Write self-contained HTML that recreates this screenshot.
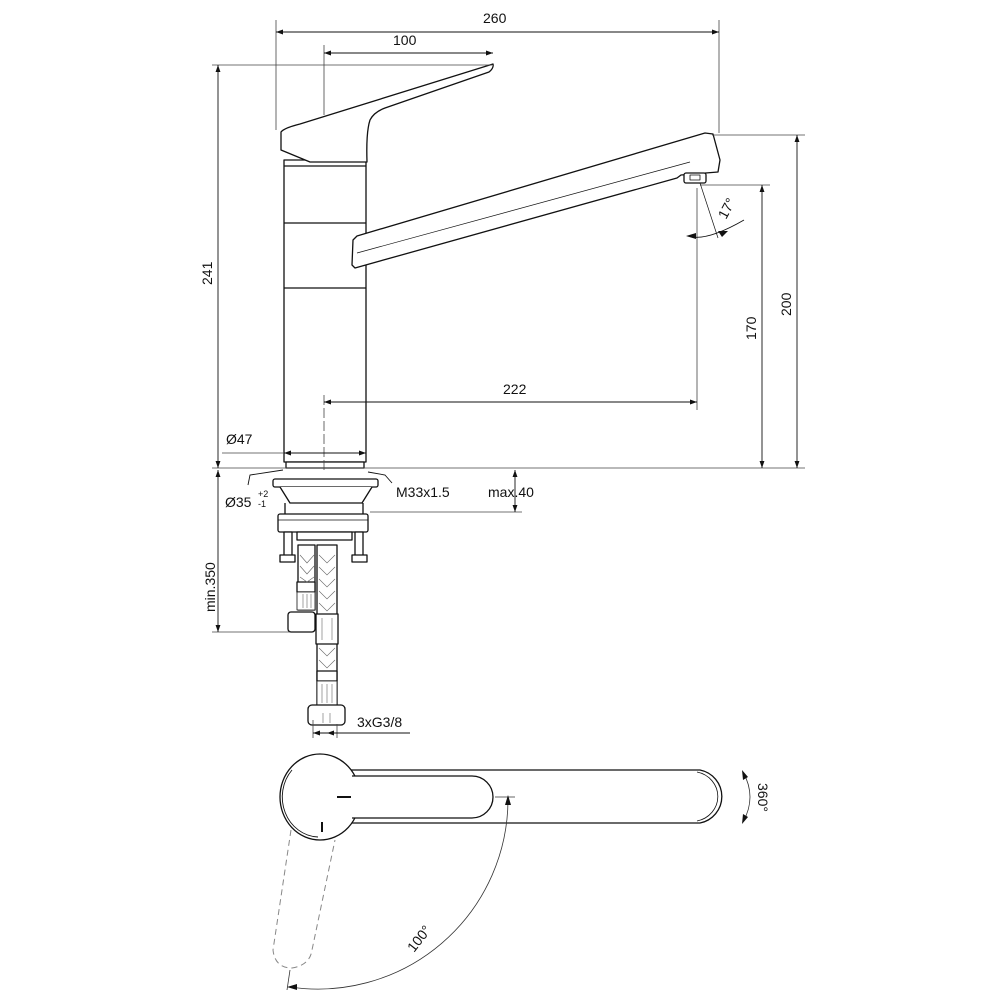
<!DOCTYPE html>
<html><head><meta charset="utf-8"><style>
html,body{margin:0;padding:0;background:#fff}
svg{display:block}
text{font-family:"Liberation Sans",Arial,sans-serif;font-size:14px;fill:#111}
</style></head><body>
<svg width="1000" height="1000" viewBox="0 0 1000 1000" xmlns="http://www.w3.org/2000/svg">
<defs>
<marker id="a" viewBox="0 0 10 10" refX="10" refY="5" markerWidth="10" markerHeight="7" orient="auto-start-reverse" markerUnits="userSpaceOnUse"><path d="M0,1.5 L10,5 L0,8.5z" fill="#111"/></marker>
</defs>
<!-- faucet -->
<g stroke="#111" stroke-width="1.3" fill="#fff" stroke-linejoin="round">
<rect x="284" y="160" width="82" height="302"/>
<line x1="284" y1="166" x2="366" y2="166"/>
<line x1="284" y1="223" x2="366" y2="223"/>
<line x1="284" y1="288" x2="366" y2="288"/>
<path d="M281,132 L281,150 L310,162 L367,162 Q366,132 370,120 Q374,112 385,108 L489,72 Q494,68 493,64 L300,124 Q284,128 281,132z"/>
<path d="M353,240 L357,236 L705,133 L713,134 L720,160 L718,172 L681,175 L677,178 L355,268 L352,265z"/>
<line x1="357" y1="253" x2="690" y2="162" stroke-width="0.7"/>
<rect x="684" y="173" width="22" height="10" rx="2"/>
<rect x="690" y="175" width="10" height="5" stroke-width="0.8"/>
<rect x="286" y="462" width="78" height="6"/>
<!-- under sink -->
<rect x="273" y="479" width="105" height="8" rx="2"/>
<path d="M280,487 L290,503 L362,503 L372,487"/>
<rect x="278" y="514" width="90" height="18" rx="2"/>
<line x1="278" y1="520" x2="368" y2="520" stroke-width="0.8"/>
<line x1="285" y1="503" x2="285" y2="514"/><line x1="363" y1="503" x2="363" y2="514"/>
<rect x="297" y="532" width="55" height="8"/>
<rect x="284" y="532" width="8" height="24"/><rect x="280" y="555" width="15" height="7"/>
<rect x="355" y="532" width="8" height="24"/><rect x="352" y="555" width="15" height="7"/>
<rect x="298" y="545" width="17" height="65"/>
<rect x="317" y="545" width="20" height="160"/>
<rect x="297" y="582" width="18" height="10"/>
<rect x="297" y="592" width="18" height="18" stroke-width="0.8"/>
<rect x="288" y="612" width="27" height="20" rx="3"/>
<rect x="316" y="614" width="22" height="30"/>
<rect x="317" y="671" width="20" height="10"/>
<rect x="317" y="681" width="20" height="24" stroke-width="0.8"/>
<rect x="308" y="705" width="37" height="20" rx="4"/>
</g>
<g stroke="#666" stroke-width="0.6" fill="none">
<path d="M300,555 l7,8 l7,-8 M300,566 l7,8 l7,-8 M300,577 l7,5 l7,-5"/>
<path d="M319,555 l8,8 l8,-8 M319,567 l8,8 l8,-8 M319,579 l8,8 l8,-8 M319,591 l8,8 l8,-8 M319,603 l8,8 l8,-8 M319,648 l8,8 l8,-8 M319,660 l8,8 l8,-8"/>
<path d="M303,594 v14 M307,594 v14 M311,594 v14 M322,684 v19 M327,684 v19 M332,684 v19 M322,618 v22 M332,618 v22"/>
<path d="M323,713 v10 M330,713 v10"/>
</g>
<g stroke="#444" stroke-width="0.8" fill="none">
<line x1="276" y1="20" x2="276" y2="130"/>
<line x1="719" y1="20" x2="719" y2="133"/>
<line x1="324" y1="45" x2="324" y2="115"/>
<line x1="212" y1="65" x2="492" y2="65"/>
<line x1="712" y1="135" x2="805" y2="135"/>
<line x1="700" y1="185" x2="770" y2="185"/>
<line x1="697" y1="188" x2="697" y2="410"/>
<line x1="324" y1="395" x2="324" y2="470" stroke-dasharray="10,3"/>
<line x1="212" y1="468" x2="805" y2="468"/>
<line x1="222" y1="453" x2="284" y2="453"/>
<line x1="370" y1="512" x2="522" y2="512"/>
<line x1="212" y1="632" x2="290" y2="632"/>
<line x1="313" y1="720" x2="313" y2="738"/>
<line x1="337" y1="724" x2="337" y2="738"/>
</g>
<g stroke="#111" stroke-width="0.9" fill="none">
<line x1="276" y1="32" x2="719" y2="32" marker-start="url(#a)" marker-end="url(#a)"/>
<line x1="324" y1="53" x2="493" y2="53" marker-start="url(#a)" marker-end="url(#a)"/>
<line x1="218" y1="65" x2="218" y2="468" marker-start="url(#a)" marker-end="url(#a)"/>
<line x1="797" y1="135" x2="797" y2="468" marker-start="url(#a)" marker-end="url(#a)"/>
<line x1="762" y1="185" x2="762" y2="468" marker-start="url(#a)" marker-end="url(#a)"/>
<line x1="324" y1="402" x2="697" y2="402" marker-start="url(#a)" marker-end="url(#a)"/>
<line x1="284" y1="453" x2="366" y2="453" marker-start="url(#a)" marker-end="url(#a)"/>
<line x1="515" y1="470" x2="515" y2="512" marker-start="url(#a)" marker-end="url(#a)"/>
<line x1="218" y1="470" x2="218" y2="632" marker-start="url(#a)" marker-end="url(#a)"/>
<line x1="313" y1="733" x2="410" y2="733" marker-start="url(#a)"/>
<line x1="337" y1="733" x2="327" y2="733" marker-end="url(#a)"/>
<polyline points="248,485 250,475 283,470"/>
<polyline points="392,483 385,475 368,472"/>
<line x1="700" y1="183" x2="718" y2="238" stroke-width="0.7"/>
<path d="M688,236 Q706,242 744,220" />
</g>
<g fill="#111"><path d="M686,236 l10,-3 l0,6z"/><path d="M728,231 l-10,0 l4,6z"/></g>
<!-- texts -->
<text x="483" y="23">260</text>
<text x="393" y="45">100</text>
<text x="503" y="394">222</text>
<text x="226" y="444">Ø47</text>
<text x="396" y="497">M33x1.5</text>
<text x="488" y="497">max.40</text>
<text x="225" y="507">Ø35</text>
<text x="258" y="497" style="font-size:9px">+2</text>
<text x="258" y="507" style="font-size:9px">-1</text>
<text x="357" y="727">3xG3/8</text>
<text transform="translate(212,285) rotate(-90)">241</text>
<text transform="translate(791,316) rotate(-90)">200</text>
<text transform="translate(756,340) rotate(-90)">170</text>
<text transform="translate(215,612) rotate(-90)">min.350</text>
<text transform="translate(726,220) rotate(-62)">17°</text>
<text transform="translate(758,783) rotate(90)">360°</text>
<text transform="translate(414,953) rotate(-52)">100°</text>
<!-- top view -->
<g stroke="#111" stroke-width="1.3" fill="#fff">
<path d="M330,770 L700,770 A27,27 0 0 1 700,823 L330,823 Z"/>
<path d="M697,772 A26,25 0 0 1 697,821" stroke-width="0.8" fill="none"/>
<ellipse cx="320" cy="797" rx="40" ry="43"/>
<path d="M292,770 A37,40 0 0 0 318,837" stroke-width="0.9" fill="none"/>
<path d="M350,776 L472,776 A21,21 0 0 1 472,818 L350,818 A30,30 0 0 0 350,776 Z" stroke="none"/>
<path d="M352,776 L472,776 A21,21 0 0 1 472,818 L352,818" fill="none"/>
<line x1="337" y1="797" x2="351" y2="797" stroke-width="2"/>
<line x1="322" y1="822" x2="322" y2="832" stroke-width="2"/>
</g>
<g stroke="#888" stroke-width="1" fill="none" stroke-dasharray="6,4">
<path d="M291,830 L273,950 Q275,968 292,968 Q310,965 312,950 L335,840"/>
</g>
<g stroke="#333" stroke-width="0.8" fill="none">
<line x1="495" y1="797" x2="515" y2="797"/>
<line x1="290" y1="970" x2="287" y2="990"/>
<path d="M508,800 A190,190 0 0 1 290,987"/>
<path d="M743,772 Q757,797 743,822"/>
</g>
<g fill="#111">
<path d="M508,795 l-3,10 l6,0z"/>
<path d="M287,987 l10,-3 l0,6z"/>
<path d="M742,770 l1,10 l5,-3z"/>
<path d="M742,824 l1,-10 l5,3z"/>
</g>
</svg>
</body></html>
